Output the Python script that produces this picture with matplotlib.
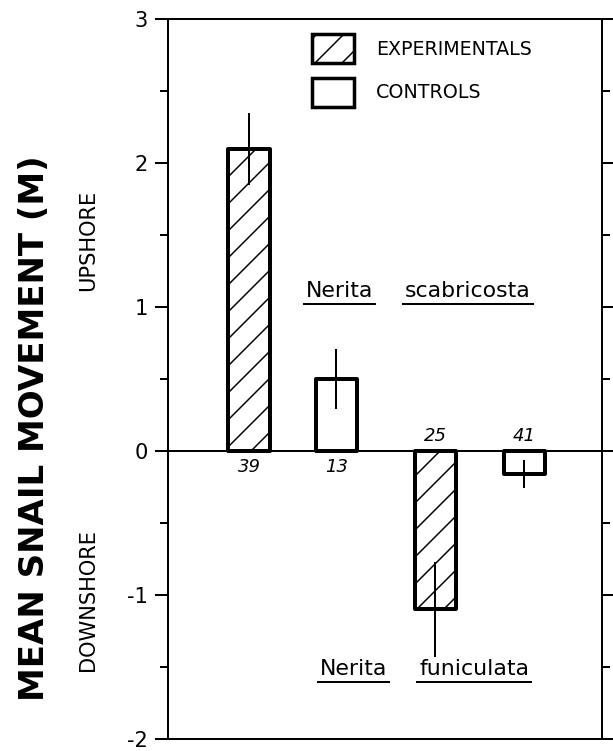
import matplotlib
matplotlib.use("Agg")
import matplotlib.pyplot as plt
from matplotlib.patches import Patch
from matplotlib.lines import Line2D
from matplotlib.ticker import MultipleLocator, FixedLocator, FixedFormatter
import matplotlib.transforms as mtransforms

# data
treatments = ["EXPERIMENTALS", "CONTROLS", "EXPERIMENTALS", "CONTROLS"]
mean_move = [2.10, 0.50, -1.10, -0.16]
move_err = [0.25, 0.21, 0.33, 0.10]
n_snails = [39, 13, 25, 41]
bar_pos = [1.80, 3.74, 5.94, 7.92]
y_ticks = [-2, -1, 0, 1, 2, 3]
y_ticklabels = ["-2", "-1", "0", "1", "2", "3"]
species_words = [("Nerita", "scabricosta"), ("Nerita", "funiculata")]
species_anchor = [((3.81, 6.67), 1.07), ((4.12, 6.80), -1.556)]

# dpi picked so the default '/' hatch spacing matches the original (~27 px)
W, H, DPI = 613, 751, 81
P = 72 / DPI  # px -> pt
AX_TOP, AX_BOT = 19, 739

plt.rcParams["font.family"] = "DejaVu Sans"
plt.rcParams["hatch.linewidth"] = 1.5 * P

fig = plt.figure(figsize=(W / DPI, H / DPI), dpi=DPI)
ax = fig.add_axes([168 / W, (H - AX_BOT) / H, 434 / W, (AX_BOT - AX_TOP) / H])
ax.set_xlim(0, 434 / 45)
ax.set_ylim(-2, 3)

ax.axhline(0, color="black", lw=2 * P, zorder=1)
hatches = {"EXPERIMENTALS": "/", "CONTROLS": ""}
bars = ax.bar(bar_pos, mean_move, width=0.92, color="white", edgecolor="black",
              linewidth=4 * P, zorder=2)
for b, t in zip(bars, treatments):
    b.set_hatch(hatches[t])
    b.set_joinstyle("round")
ax.errorbar(bar_pos, mean_move, yerr=move_err, fmt="none", ecolor="black",
            elinewidth=2 * P, capsize=0, zorder=3)

for x, m, n in zip(bar_pos, mean_move, n_snails):
    dy = -16 if m > 0 else 15
    ax.annotate(str(n), (x, 0), xytext=(0, dy * P), textcoords="offset points",
                ha="center", va="center", fontsize=18 * P, style="italic")

# axes frame
for s in ax.spines.values():
    s.set_linewidth(2 * P)
ax.set_xticks([])
ax.yaxis.set_major_locator(FixedLocator(y_ticks))
ax.yaxis.set_major_formatter(FixedFormatter(y_ticklabels))
ax.yaxis.set_minor_locator(MultipleLocator(0.5))
ax.tick_params(axis="y", which="major", direction="out", length=13 * P,
               width=2 * P, left=True, right=True, labelsize=21 * P, pad=7 * P)
ax.tick_params(axis="y", which="minor", direction="out", length=8 * P,
               width=2 * P, left=True, right=True)

# frame lines continue past the right edge
blend = mtransforms.blended_transform_factory(ax.transAxes, ax.transData)
for yv in [3, 0, -2]:
    ax.add_line(Line2D([1, 1.1], [yv, yv], transform=blend, color="black",
                       lw=2 * P, clip_on=False))

# legend
handles = [Patch(facecolor="white", edgecolor="black", hatch="/", lw=3.5 * P),
           Patch(facecolor="white", edgecolor="black", lw=3.5 * P)]
leg = ax.legend(handles, ["EXPERIMENTALS", "CONTROLS"], loc="upper left",
                bbox_to_anchor=((312 - 168) / 434, (AX_BOT - 34) / (AX_BOT - AX_TOP)),
                frameon=False, fontsize=19 * P, handlelength=2.2, handleheight=2.0,
                handletextpad=1.15, labelspacing=0.75, borderpad=0, borderaxespad=0)

# species names, each word underlined
word_texts = []
for words, (xs, yb) in zip(species_words, species_anchor):
    for w, xw in zip(words, xs):
        t = ax.text(xw, yb, w, ha="center", va="baseline", fontsize=22 * P)
        word_texts.append(t)

fig.text(35 / W, 1 - 428 / H, "MEAN SNAIL MOVEMENT (M)", rotation=90,
         ha="center", va="center", fontsize=34 * P, fontweight="bold")
fig.text(88 / W, 1 - 240 / H, "UPSHORE", rotation=90, ha="center", va="center",
         fontsize=21 * P)
fig.text(88 / W, 1 - 600 / H, "DOWNSHORE", rotation=90, ha="center", va="center",
         fontsize=21 * P)

fig.canvas.draw()
r = fig.canvas.get_renderer()
inv = fig.transFigure.inverted()
for t in word_texts:
    bb = t.get_window_extent(r)
    base = ax.transData.transform((0, t.get_position()[1]))[1]
    (x0, y0), (x1, _) = inv.transform([(bb.x0 - 2, base - 7), (bb.x1 + 2, base - 7)])
    fig.add_artist(Line2D([x0, x1], [y0, y0], transform=fig.transFigure,
                          color="black", lw=2 * P))

fig.savefig("out.png", dpi=DPI, facecolor="white")
